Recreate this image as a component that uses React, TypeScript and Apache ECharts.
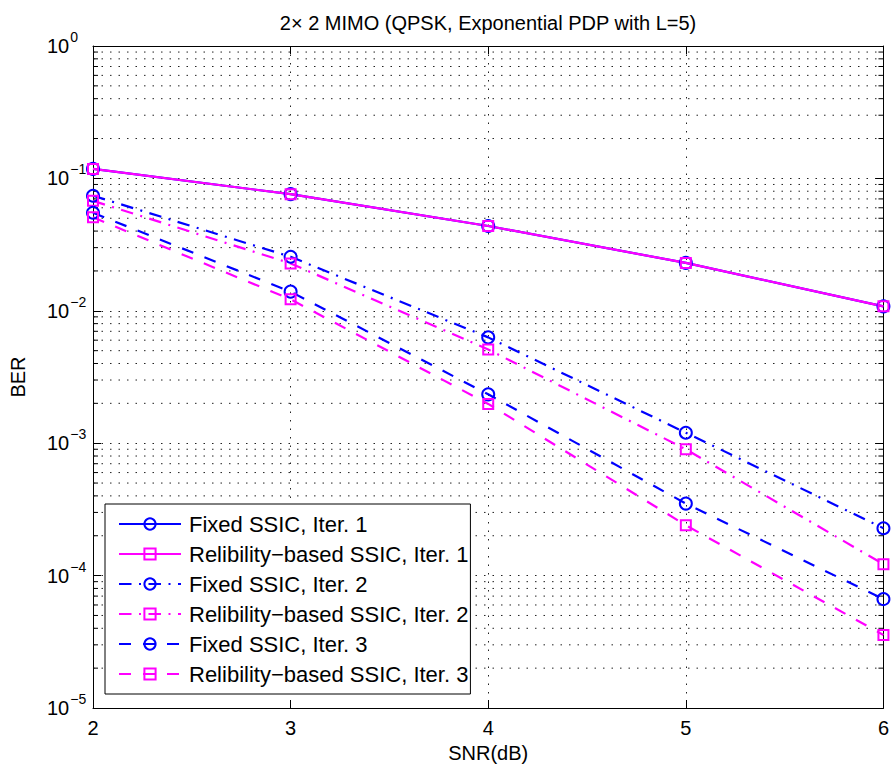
import React, { useEffect, useRef } from 'react';
import * as echarts from 'echarts';

// ---- data ----
const snr = [2, 3, 4, 5, 6];
const fixedIter1 = [0.118, 0.076, 0.0437, 0.023, 0.0108];
const relIter1 = [0.118, 0.076, 0.0437, 0.023, 0.0108];
const fixedIter2 = [0.074, 0.0256, 0.0063, 0.0012, 0.000228];
const relIter2 = [0.0677, 0.0228, 0.0051, 0.0009, 0.000122];
const fixedIter3 = [0.055, 0.01395, 0.00234, 0.00035, 0.0000665];
const relIter3 = [0.0508, 0.0122, 0.00198, 0.00024, 0.0000356];

const seriesNames = [
  'Fixed SSIC, Iter. 1',
  'Relibility\u2212based SSIC, Iter. 1',
  'Fixed SSIC, Iter. 2',
  'Relibility\u2212based SSIC, Iter. 2',
  'Fixed SSIC, Iter. 3',
  'Relibility\u2212based SSIC, Iter. 3',
];
const titleText = '2\u00d7 2 MIMO (QPSK, Exponential PDP with L=5)';
const xName = 'SNR(dB)';
const yName = 'BER';
const yMin = 1e-5;
const yMax = 1;
const xMin = 2;
const xMax = 6;
const decadeExps = [-5, -4, -3, -2, -1];
const minorMantissas = [2, 3, 4, 5, 6, 7, 8, 9];

const minorValues: number[] = [];
decadeExps.forEach((e) => minorMantissas.forEach((m) => minorValues.push(m * Math.pow(10, e))));

const FONT = '"Liberation Sans", Arial, Helvetica, sans-serif';
const BLUE = '#0000ff';
const MAG = '#ff00ff';
const DASHDOT = [12.5, 7.5, 2, 7.5];
const DASHED = [12, 12];
const GRID_DOTS = [1.5, 7];
const GRID_COLOR = '#222';

function lineSeries(name: string, vals: number[], color: string, dash: any, symbol: string, size: number) {
  return {
    type: 'line',
    name,
    data: snr.map((x, i) => [x, vals[i]]),
    symbol,
    symbolSize: size,
    showSymbol: true,
    lineStyle: { color, width: 2.2, type: dash },
    itemStyle: { color: 'rgba(0,0,0,0)', borderColor: color, borderWidth: 2 },
    emphasis: { disabled: true },
    silent: true,
    z: 3,
  };
}

function supLabel(v: number) {
  const e = Math.round(Math.log10(v));
  const s = e < 0 ? '\u2212' + String(-e) : String(e);
  return '{b|10}{e|' + s + '}';
}

export default function App() {
  const ref = useRef<HTMLDivElement>(null);
  useEffect(() => {
    document.body.style.margin = '0';
    if (!ref.current) return;
    const chart = echarts.init(ref.current, undefined, { renderer: 'svg' });
    const axisLineStyle = { show: true, onZero: false, lineStyle: { color: '#000', width: 1 } };
    const option: any = {
      animation: false,
      backgroundColor: '#fff',
      textStyle: { fontFamily: FONT },
      grid: { left: 92, right: 8, top: 46, bottom: 63, containLabel: false },
      graphic: [
        {
          type: 'text',
          x: 488,
          y: 23,
          style: {
            text: titleText,
            align: 'center',
            verticalAlign: 'middle',
            fontSize: 20,
            fontFamily: FONT,
            fill: '#000',
          },
        },
      ],
      legend: {
        data: seriesNames,
        orient: 'vertical',
        left: 105,
        top: 504,
        backgroundColor: '#fff',
        borderColor: '#000',
        borderWidth: 1,
        padding: [9, 2, 9, 13],
        itemWidth: 62,
        itemHeight: 14,
        itemGap: 8,
        selectedMode: false,
        textStyle: { fontSize: 22, lineHeight: 22, color: '#000', fontFamily: FONT, padding: [0, 0, 0, 3] },
      },
      xAxis: [
        {
          type: 'value',
          min: xMin,
          max: xMax,
          interval: 1,
          position: 'bottom',
          axisLine: axisLineStyle,
          axisTick: { show: true, inside: true, length: 8, lineStyle: { color: '#000' } },
          axisLabel: { fontSize: 20, color: '#000', margin: 10, fontFamily: FONT },
          splitLine: { show: true, lineStyle: { color: GRID_COLOR, width: 1, type: GRID_DOTS } },
          name: xName,
          nameLocation: 'middle',
          nameGap: 31,
          nameTextStyle: { fontSize: 20, color: '#000', fontFamily: FONT },
        },
        {
          type: 'value',
          min: xMin,
          max: xMax,
          interval: 1,
          position: 'top',
          axisLine: axisLineStyle,
          axisTick: { show: true, inside: true, length: 8, lineStyle: { color: '#000' } },
          axisLabel: { show: false },
          splitLine: { show: false },
        },
      ],
      yAxis: [
        {
          type: 'log',
          logBase: 10,
          min: yMin,
          max: yMax,
          position: 'left',
          axisLine: axisLineStyle,
          axisTick: { show: true, inside: true, length: 8, lineStyle: { color: '#000' } },
          axisLabel: {
            align: 'left',
            margin: 46,
            formatter: supLabel,
            rich: {
              b: { fontSize: 20, color: '#000', fontFamily: FONT, padding: [7, 0, 7, 0], verticalAlign: 'bottom' },
              e: { fontSize: 14, color: '#000', fontFamily: FONT, padding: [1, 0, 0, 1], verticalAlign: 'top' },
            },
          },
          splitLine: { show: true, lineStyle: { color: GRID_COLOR, width: 1, type: GRID_DOTS } },
          name: yName,
          nameLocation: 'middle',
          nameGap: 65,
          nameRotate: 90,
          nameTextStyle: { fontSize: 20, color: '#000', fontFamily: FONT },
        },
        {
          type: 'log',
          logBase: 10,
          min: yMin,
          max: yMax,
          position: 'right',
          axisLine: axisLineStyle,
          axisTick: { show: true, inside: true, length: 8, lineStyle: { color: '#000' } },
          axisLabel: { show: false },
          splitLine: { show: false },
        },
      ],
      series: [
        {
          type: 'custom',
          name: 'minorGrid',
          xAxisIndex: 0,
          yAxisIndex: 0,
          silent: true,
          z: 1,
          data: minorValues.map((v) => [xMin, v]),
          encode: { x: 0, y: 1 },
          renderItem: (params: any, api: any) => {
            const v = api.value(1);
            const a = api.coord([xMin, v]);
            const b = api.coord([xMax, v]);
            return {
              type: 'group',
              children: [
                {
                  type: 'line',
                  shape: { x1: a[0], y1: a[1], x2: b[0], y2: b[1] },
                  style: { stroke: GRID_COLOR, lineWidth: 1, lineDash: GRID_DOTS },
                },
                {
                  type: 'line',
                  shape: { x1: a[0], y1: a[1], x2: a[0] + 5, y2: a[1] },
                  style: { stroke: '#000', lineWidth: 1 },
                },
                {
                  type: 'line',
                  shape: { x1: b[0] - 5, y1: b[1], x2: b[0], y2: b[1] },
                  style: { stroke: '#000', lineWidth: 1 },
                },
              ],
            };
          },
        },
        lineSeries(seriesNames[0], fixedIter1, BLUE, 'solid', 'circle', 12),
        lineSeries(seriesNames[1], relIter1, MAG, 'solid', 'rect', 10),
        lineSeries(seriesNames[2], fixedIter2, BLUE, DASHDOT, 'circle', 12),
        lineSeries(seriesNames[3], relIter2, MAG, DASHDOT, 'rect', 10),
        lineSeries(seriesNames[4], fixedIter3, BLUE, DASHED, 'circle', 12),
        lineSeries(seriesNames[5], relIter3, MAG, DASHED, 'rect', 10),
      ],
    };
    chart.setOption(option);
    return () => chart.dispose();
  }, []);
  return <div ref={ref} style={{ width: 892, height: 771 }} />;
}
